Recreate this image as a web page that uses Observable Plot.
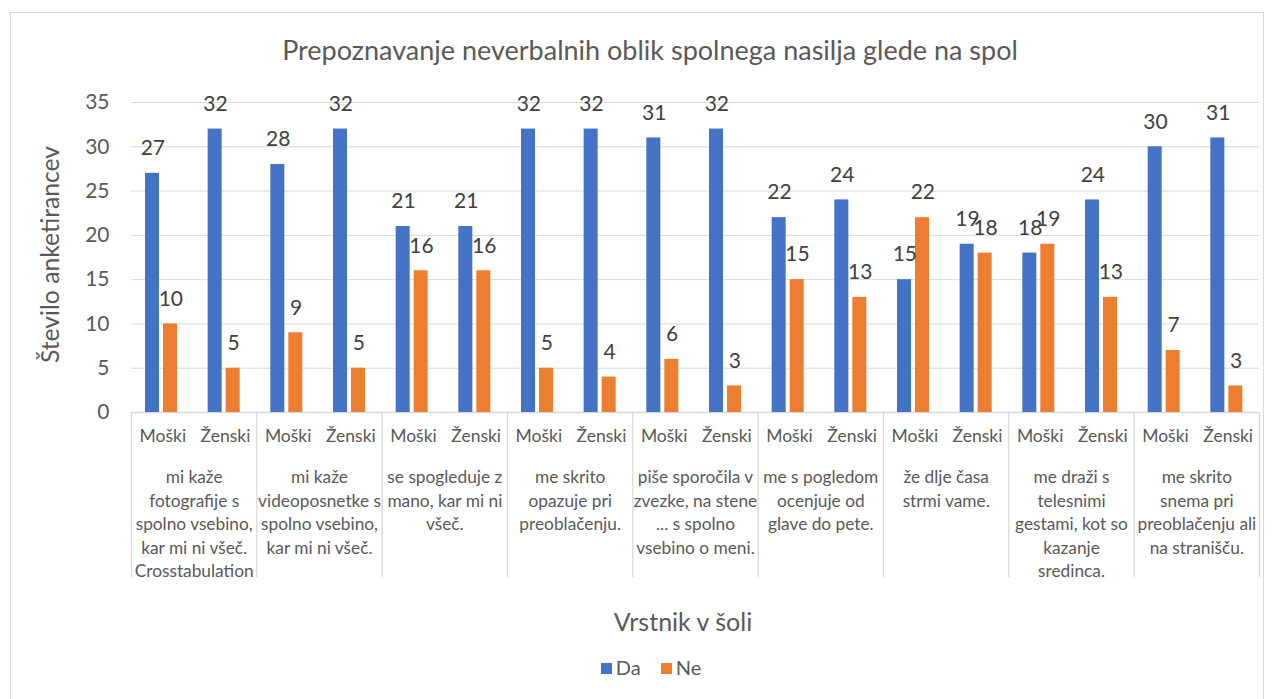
<!DOCTYPE html>
<html>
<head>
<meta charset="utf-8">
<script src="https://cdn.jsdelivr.net/npm/d3@7"></script>
<script src="https://cdn.jsdelivr.net/npm/@observablehq/plot@0.6"></script>
<style>
  html, body { margin: 0; padding: 0; background: #fff; }
  #wrap { position: relative; width: 1275px; height: 699px; overflow: hidden; font-family: Lato, "Noto Sans", sans-serif; }
  #border { position: absolute; left: 10px; top: 12px; width: 1254px; height: 720px; border: 1px solid #D9D9D9; box-sizing: border-box; }
  #title { position: absolute; left: 0; width: 1300px; top: 33px; text-align: center; font-size: 27px; color: #595959; white-space: nowrap; }
  #xtitle { position: absolute; left: 0; width: 1366px; top: 606px; text-align: center; font-size: 25px; color: #595959; }
  #legend { position: absolute; left: 0; width: 1302px; top: 655px; text-align: center; font-size: 20px; color: #595959; }
  #legend span.sw { display: inline-block; width: 11px; height: 11px; margin-right: 4px; vertical-align: 1px; }
  #legend span.item { margin: 0 10px; }
  svg { position: absolute; left: 0; top: 0; }
</style>
</head>
<body>
<div id="wrap">
  <div id="border"></div>
  <div id="chart"></div>
  <div id="title">Prepoznavanje neverbalnih oblik spolnega nasilja glede na spol</div>
  <div id="xtitle">Vrstnik v šoli</div>
  <div id="legend"></div>
</div>
<script>
const groups = [
  "mi kaže\nfotografije s\nspolno vsebino,\nkar mi ni všeč.\nCrosstabulation",
  "mi kaže\nvideoposnetke s\nspolno vsebino,\nkar mi ni všeč.",
  "se spogleduje z\nmano, kar mi ni\nvšeč.",
  "me skrito\nopazuje pri\npreoblačenju.",
  "piše sporočila v\nzvezke, na stene\n... s spolno\nvsebino o meni.",
  "me s pogledom\nocenjuje od\nglave do pete.",
  "že dlje časa\nstrmi vame.",
  "me draži s\ntelesnimi\ngestami, kot so\nkazanje\nsredinca.",
  "me skrito\nsnema pri\npreoblačenju ali\nna stranišču."
];
const sexes = ["Moški", "Ženski"];
const seriesNames = ["Da", "Ne"];
const seriesColors = ["#4472C4", "#ED7D31"];
// values in order: group1 Moški, group1 Ženski, group2 Moški, ...
const daValues = [27, 32, 28, 32, 21, 21, 32, 32, 31, 32, 22, 24, 15, 19, 18, 24, 30, 31];
const neValues = [10, 5, 9, 5, 16, 16, 5, 4, 6, 3, 15, 13, 22, 18, 19, 13, 7, 3];
const yTicks = [0, 5, 10, 15, 20, 25, 30, 35];
const yLabel = "Število anketirancev";

const rows = [];
groups.forEach((g, gi) => sexes.forEach((s, si) => {
  const i = gi * 2 + si;
  rows.push({key: gi + "|" + s, gi, sex: s, da: daValues[i], ne: neValues[i]});
}));
const keys = rows.map(d => d.key);
const firstKeys = rows.filter(d => d.sex === sexes[0]);
const lastRow = rows[rows.length - 1];

const W = 1275, H = 699;
const mL = 131, mR = 16, mT = 102, mB = 287;
const bw = (W - mL - mR) / keys.length;

const chart = Plot.plot({
  width: W, height: H,
  marginLeft: mL, marginRight: mR, marginTop: mT, marginBottom: mB,
  style: {fontFamily: "Lato, 'Noto Sans', sans-serif", background: "transparent", overflow: "visible"},
  x: {type: "band", domain: keys, padding: 0, round: false, axis: null},
  y: {domain: [0, 35], ticks: yTicks, label: null},
  marks: [
    Plot.gridY(yTicks.filter(t => t > 0), {stroke: "#D9D9D9", strokeOpacity: 1, strokeWidth: 1}),
    Plot.axisY(yTicks, {tickSize: 0, tickPadding: 22, fontSize: 21, fill: "#595959", label: null}),
    Plot.ruleY([0], {stroke: "#D9D9D9", strokeWidth: 1.3}),
    Plot.barY(rows, {x: "key", y: "da", fill: seriesColors[0], insetLeft: 14, insetRight: bw - 28}),
    Plot.barY(rows, {x: "key", y: "ne", fill: seriesColors[1], insetLeft: 32, insetRight: bw - 46}),
    Plot.text(rows, {x: "key", y: "da", text: d => String(d.da), dx: -10, dy: -25, fontSize: 21, fill: "#404040"}),
    Plot.text(rows, {x: "key", y: "ne", text: d => String(d.ne), dx: 8, dy: -25, fontSize: 21, fill: "#404040"}),
    // category separators
    Plot.ruleX(firstKeys, {x: "key", y1: 0, y2: 0, dx: -bw / 2, insetBottom: -165, stroke: "#D9D9D9", strokeWidth: 1.3}),
    Plot.ruleX([lastRow], {x: "key", y1: 0, y2: 0, dx: bw / 2, insetBottom: -165, stroke: "#D9D9D9", strokeWidth: 1.3}),
    // sex labels
    Plot.text(rows, {x: "key", y: 0, text: "sex", dy: 24, fontSize: 17.5, fill: "#595959"}),
    // group labels
    Plot.text(firstKeys, {x: "key", y: 0, text: d => groups[d.gi], dx: bw / 2, dy: 54, lineAnchor: "top", lineHeight: 1.36, fontSize: 17.3, fill: "#595959"}),
    // y axis title
    Plot.text([yLabel], {frameAnchor: "left", text: d => d, textAnchor: "middle", rotate: -90, dx: -80, dy: -3, fontSize: 24.7, fill: "#595959"})
  ]
});
document.getElementById("chart").appendChild(chart);

const legend = document.getElementById("legend");
seriesNames.forEach((n, i) => {
  const item = document.createElement("span");
  item.className = "item";
  const sw = document.createElement("span");
  sw.className = "sw";
  sw.style.background = seriesColors[i];
  item.appendChild(sw);
  item.appendChild(document.createTextNode(n));
  legend.appendChild(item);
});
</script>
</body>
</html>
